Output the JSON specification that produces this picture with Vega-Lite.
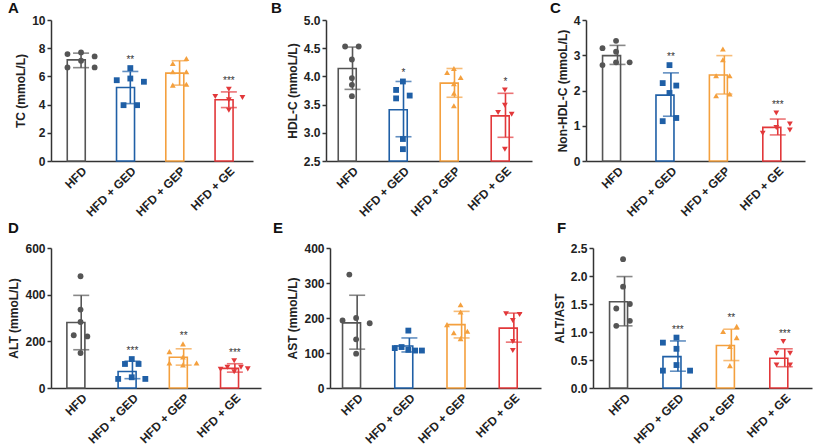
{
"$schema": "https://vega.github.io/schema/vega-lite/v6.json",
"background": "white",
"padding": {"left": 7, "top": 1, "right": 4, "bottom": 2},
"datasets": {
"sA": [
{"group":"HFD","mean":7.17,"lo":6.62,"hi":7.65,"star":""},
{"group":"HFD + GED","mean":5.21,"lo":4.07,"hi":6.35,"star":"**"},
{"group":"HFD + GEP","mean":6.23,"lo":5.38,"hi":7.11,"star":""},
{"group":"HFD + GE","mean":4.34,"lo":3.79,"hi":4.90,"star":"***"}],
"sB": [
{"group":"HFD","mean":4.14,"lo":3.77,"hi":4.52,"star":""},
{"group":"HFD + GED","mean":3.41,"lo":2.93,"hi":3.91,"star":"*"},
{"group":"HFD + GEP","mean":3.88,"lo":3.63,"hi":4.14,"star":""},
{"group":"HFD + GE","mean":3.30,"lo":2.92,"hi":3.70,"star":"*"}],
"sC": [
{"group":"HFD","mean":2.99,"lo":2.74,"hi":3.28,"star":""},
{"group":"HFD + GED","mean":1.87,"lo":1.27,"hi":2.50,"star":"**"},
{"group":"HFD + GEP","mean":2.44,"lo":1.90,"hi":2.99,"star":""},
{"group":"HFD + GE","mean":0.955,"lo":0.74,"hi":1.19,"star":"***"}],
"sD": [
{"group":"HFD","mean":281,"lo":164,"hi":397,"star":""},
{"group":"HFD + GED","mean":71,"lo":40,"hi":115,"star":"***"},
{"group":"HFD + GEP","mean":132,"lo":98,"hi":168,"star":"**"},
{"group":"HFD + GE","mean":84,"lo":68,"hi":104,"star":"***"}],
"sE": [
{"group":"HFD","mean":186,"lo":111,"hi":265,"star":""},
{"group":"HFD + GED","mean":120,"lo":103,"hi":143,"star":""},
{"group":"HFD + GEP","mean":181,"lo":143,"hi":219,"star":""},
{"group":"HFD + GE","mean":171,"lo":131,"hi":214,"star":""}],
"sF": [
{"group":"HFD","mean":1.54,"lo":1.11,"hi":1.99,"star":""},
{"group":"HFD + GED","mean":0.56,"lo":0.30,"hi":0.84,"star":"***"},
{"group":"HFD + GEP","mean":0.76,"lo":0.49,"hi":1.05,"star":"**"},
{"group":"HFD + GE","mean":0.53,"lo":0.38,"hi":0.70,"star":"***"}],
"pts": [
{"panel":"A","group":"HFD","lane":-2,"v":7.58},{"panel":"A","group":"HFD","lane":0,"v":7.70},{"panel":"A","group":"HFD","lane":2,"v":7.42},{"panel":"A","group":"HFD","lane":0,"v":7.11},{"panel":"A","group":"HFD","lane":-2,"v":6.64},{"panel":"A","group":"HFD","lane":2,"v":6.64},
{"panel":"A","group":"HFD + GED","lane":0,"v":6.59},{"panel":"A","group":"HFD + GED","lane":-2,"v":5.73},{"panel":"A","group":"HFD + GED","lane":2,"v":5.62},{"panel":"A","group":"HFD + GED","lane":0,"v":5.85},{"panel":"A","group":"HFD + GED","lane":-1,"v":3.96},{"panel":"A","group":"HFD + GED","lane":1,"v":3.96},
{"panel":"A","group":"HFD + GEP","lane":1,"v":7.27},{"panel":"A","group":"HFD + GEP","lane":-1,"v":6.92},{"panel":"A","group":"HFD + GEP","lane":1,"v":6.33},{"panel":"A","group":"HFD + GEP","lane":-1,"v":6.33},{"panel":"A","group":"HFD + GEP","lane":-1,"v":5.38},{"panel":"A","group":"HFD + GEP","lane":1,"v":5.45},
{"panel":"A","group":"HFD + GE","lane":0,"v":5.09},{"panel":"A","group":"HFD + GE","lane":-2,"v":4.57},{"panel":"A","group":"HFD + GE","lane":2,"v":4.50},{"panel":"A","group":"HFD + GE","lane":0,"v":4.34},{"panel":"A","group":"HFD + GE","lane":0,"v":3.60},
{"panel":"B","group":"HFD","lane":-1,"v":4.53},{"panel":"B","group":"HFD","lane":1,"v":4.53},{"panel":"B","group":"HFD","lane":0,"v":4.30},{"panel":"B","group":"HFD","lane":0,"v":3.97},{"panel":"B","group":"HFD","lane":0,"v":3.85},{"panel":"B","group":"HFD","lane":0,"v":3.65},
{"panel":"B","group":"HFD + GED","lane":0,"v":3.91},{"panel":"B","group":"HFD + GED","lane":-1,"v":3.76},{"panel":"B","group":"HFD + GED","lane":-1,"v":3.61},{"panel":"B","group":"HFD + GED","lane":1,"v":3.66},{"panel":"B","group":"HFD + GED","lane":0,"v":2.89},{"panel":"B","group":"HFD + GED","lane":0,"v":2.71},
{"panel":"B","group":"HFD + GEP","lane":-1,"v":4.07},{"panel":"B","group":"HFD + GEP","lane":1,"v":3.98},{"panel":"B","group":"HFD + GEP","lane":0,"v":4.14},{"panel":"B","group":"HFD + GEP","lane":0,"v":3.87},{"panel":"B","group":"HFD + GEP","lane":0,"v":3.70},{"panel":"B","group":"HFD + GEP","lane":0,"v":3.48},
{"panel":"B","group":"HFD + GE","lane":0,"v":3.76},{"panel":"B","group":"HFD + GE","lane":0,"v":3.49},{"panel":"B","group":"HFD + GE","lane":-1,"v":3.36},{"panel":"B","group":"HFD + GE","lane":1,"v":3.33},{"panel":"B","group":"HFD + GE","lane":0,"v":2.71},
{"panel":"C","group":"HFD","lane":0,"v":3.41},{"panel":"C","group":"HFD","lane":-2,"v":3.20},{"panel":"C","group":"HFD","lane":0,"v":3.10},{"panel":"C","group":"HFD","lane":-2,"v":2.72},{"panel":"C","group":"HFD","lane":0,"v":2.80},{"panel":"C","group":"HFD","lane":2,"v":2.80},
{"panel":"C","group":"HFD + GED","lane":0,"v":2.72},{"panel":"C","group":"HFD + GED","lane":-1,"v":2.21},{"panel":"C","group":"HFD + GED","lane":1,"v":2.14},{"panel":"C","group":"HFD + GED","lane":0,"v":1.93},{"panel":"C","group":"HFD + GED","lane":-1,"v":1.13},{"panel":"C","group":"HFD + GED","lane":1,"v":1.22},
{"panel":"C","group":"HFD + GEP","lane":0,"v":3.18},{"panel":"C","group":"HFD + GEP","lane":0,"v":2.87},{"panel":"C","group":"HFD + GEP","lane":-1,"v":2.42},{"panel":"C","group":"HFD + GEP","lane":1,"v":2.42},{"panel":"C","group":"HFD + GEP","lane":-1,"v":1.85},{"panel":"C","group":"HFD + GEP","lane":1,"v":1.90},
{"panel":"C","group":"HFD + GE","lane":0,"v":1.36},{"panel":"C","group":"HFD + GE","lane":-2,"v":0.79},{"panel":"C","group":"HFD + GE","lane":2,"v":1.05},{"panel":"C","group":"HFD + GE","lane":2,"v":0.88},{"panel":"C","group":"HFD + GE","lane":0,"v":0.95},
{"panel":"D","group":"HFD","lane":0,"v":479},{"panel":"D","group":"HFD","lane":0,"v":336},{"panel":"D","group":"HFD","lane":0,"v":283},{"panel":"D","group":"HFD","lane":-1,"v":226},{"panel":"D","group":"HFD","lane":1,"v":221},{"panel":"D","group":"HFD","lane":0,"v":150},
{"panel":"D","group":"HFD + GED","lane":0,"v":124},{"panel":"D","group":"HFD + GED","lane":-1,"v":103},{"panel":"D","group":"HFD + GED","lane":1,"v":103},{"panel":"D","group":"HFD + GED","lane":0,"v":46},{"panel":"D","group":"HFD + GED","lane":-2,"v":39},{"panel":"D","group":"HFD + GED","lane":2,"v":39},
{"panel":"D","group":"HFD + GEP","lane":0,"v":189},{"panel":"D","group":"HFD + GEP","lane":-2,"v":156},{"panel":"D","group":"HFD + GEP","lane":0,"v":133},{"panel":"D","group":"HFD + GEP","lane":-2,"v":107},{"panel":"D","group":"HFD + GEP","lane":0,"v":99},{"panel":"D","group":"HFD + GEP","lane":2,"v":107},
{"panel":"D","group":"HFD + GE","lane":0,"v":117},{"panel":"D","group":"HFD + GE","lane":-1,"v":89},{"panel":"D","group":"HFD + GE","lane":1,"v":89},{"panel":"D","group":"HFD + GE","lane":-2,"v":80},{"panel":"D","group":"HFD + GE","lane":2,"v":82},{"panel":"D","group":"HFD + GE","lane":0,"v":70},
{"panel":"E","group":"HFD","lane":-1,"v":324},{"panel":"E","group":"HFD","lane":0,"v":200},{"panel":"E","group":"HFD","lane":-2,"v":193},{"panel":"E","group":"HFD","lane":2,"v":185},{"panel":"E","group":"HFD","lane":0,"v":139},{"panel":"E","group":"HFD","lane":0,"v":98},
{"panel":"E","group":"HFD + GED","lane":0,"v":164},{"panel":"E","group":"HFD + GED","lane":-2,"v":114},{"panel":"E","group":"HFD + GED","lane":-1,"v":117},{"panel":"E","group":"HFD + GED","lane":1,"v":107},{"panel":"E","group":"HFD + GED","lane":2,"v":107},{"panel":"E","group":"HFD + GED","lane":0,"v":109},
{"panel":"E","group":"HFD + GEP","lane":0,"v":238},{"panel":"E","group":"HFD + GEP","lane":0,"v":217},{"panel":"E","group":"HFD + GEP","lane":-2,"v":181},{"panel":"E","group":"HFD + GEP","lane":1,"v":162},{"panel":"E","group":"HFD + GEP","lane":-1,"v":158},{"panel":"E","group":"HFD + GEP","lane":0,"v":141},
{"panel":"E","group":"HFD + GE","lane":-1,"v":212},{"panel":"E","group":"HFD + GE","lane":1,"v":210},{"panel":"E","group":"HFD + GE","lane":0,"v":193},{"panel":"E","group":"HFD + GE","lane":0,"v":133},{"panel":"E","group":"HFD + GE","lane":0,"v":107},
{"panel":"F","group":"HFD","lane":0,"v":2.30},{"panel":"F","group":"HFD","lane":0,"v":1.81},{"panel":"F","group":"HFD","lane":1,"v":1.50},{"panel":"F","group":"HFD","lane":-1,"v":1.42},{"panel":"F","group":"HFD","lane":1,"v":1.20},{"panel":"F","group":"HFD","lane":-1,"v":1.11},
{"panel":"F","group":"HFD + GED","lane":0,"v":0.90},{"panel":"F","group":"HFD + GED","lane":-2,"v":0.81},{"panel":"F","group":"HFD + GED","lane":0,"v":0.70},{"panel":"F","group":"HFD + GED","lane":0,"v":0.41},{"panel":"F","group":"HFD + GED","lane":-2,"v":0.31},{"panel":"F","group":"HFD + GED","lane":2,"v":0.31},
{"panel":"F","group":"HFD + GEP","lane":1,"v":1.10},{"panel":"F","group":"HFD + GEP","lane":-1,"v":1.01},{"panel":"F","group":"HFD + GEP","lane":1,"v":0.90},{"panel":"F","group":"HFD + GEP","lane":0,"v":0.74},{"panel":"F","group":"HFD + GEP","lane":0,"v":0.40},
{"panel":"F","group":"HFD + GE","lane":0,"v":0.83},{"panel":"F","group":"HFD + GE","lane":-1,"v":0.62},{"panel":"F","group":"HFD + GE","lane":1,"v":0.62},{"panel":"F","group":"HFD + GE","lane":-1,"v":0.41},{"panel":"F","group":"HFD + GE","lane":1,"v":0.41}
]
},
"config": {
"font": "Liberation Sans",
"view": {"stroke": null},
"axis": {"labelFont": "Liberation Sans", "labelFontSize": 12, "labelFontWeight": "bold", "labelColor": "#222", "labelOverlap": false, "titleFont": "Liberation Sans", "titleFontSize": 12, "titleFontWeight": "bold", "titleColor": "#222", "domainColor": "#333", "domainWidth": 1.5, "tickColor": "#333", "tickWidth": 1.5, "tickSize": 4, "grid": false, "titlePadding": 4, "labelPadding": 2},
"axisX": {"labelAngle": -45, "ticks": false, "labelPadding": 4},
"title": {"fontSize": 15, "fontWeight": "bold", "anchor": "start", "frame": "group", "color": "#111", "offset": -2, "font": "Liberation Sans"},
"tick": {"thickness": 1.6}
},
"spacing": 2,
"vconcat": [
{"spacing": 18, "hconcat": [
{"title": {"text": "A", "dx": -43}, "width": 202, "height": 141,
 "encoding": {"x": {"field": "group", "type": "nominal", "sort": ["HFD","HFD + GED","HFD + GEP","HFD + GE"], "scale": {"paddingInner": 0.3, "paddingOuter": 0.2, "align": 0.65}, "axis": {"title": null}}},
 "layer": [
  {"data": {"name": "sA"}, "mark": {"type": "bar", "fill": "white", "strokeWidth": 1.6, "width": {"band": 0.8}},
   "encoding": {"y": {"field": "mean", "type": "quantitative", "title": "TC (mmoL/L)", "scale": {"domain": [0, 10], "nice": false}, "axis": {"values": [0,2,4,6,8,10], "labelOverlap": false}},
    "stroke": {"field": "group", "type": "nominal", "scale": {"domain": ["HFD","HFD + GED","HFD + GEP","HFD + GE"], "range": ["#555555","#1f5fa6","#f4a03e","#e2383a"]}, "legend": null}}},
  {"data": {"name": "sA"}, "mark": {"type": "rule", "strokeWidth": 1.6},
   "encoding": {"y": {"field": "lo", "type": "quantitative", "title": "TC (mmoL/L)", "axis": {"values": [0,2,4,6,8,10], "labelOverlap": false}}, "y2": {"field": "hi"}, "color": {"field": "group", "type": "nominal", "scale": {"domain": ["HFD","HFD + GED","HFD + GEP","HFD + GE"], "range": ["#555555","#1f5fa6","#f4a03e","#e2383a"]}, "legend": null}}},
  {"data": {"name": "sA"}, "mark": {"type": "tick", "size": 16},
   "encoding": {"y": {"field": "lo", "type": "quantitative", "title": "TC (mmoL/L)", "axis": {"values": [0,2,4,6,8,10], "labelOverlap": false}}, "color": {"field": "group", "type": "nominal", "legend": null}}},
  {"data": {"name": "sA"}, "mark": {"type": "tick", "size": 16},
   "encoding": {"y": {"field": "hi", "type": "quantitative", "title": "TC (mmoL/L)", "axis": {"values": [0,2,4,6,8,10], "labelOverlap": false}}, "color": {"field": "group", "type": "nominal", "legend": null}}},
  {"data": {"name": "pts"}, "transform": [{"filter": "datum.panel=='A'"}], "mark": {"type": "point", "filled": true, "size": 34, "opacity": 1},
   "encoding": {"xOffset": {"field": "lane", "type": "ordinal", "scale": {"domain": [-2,-1,0,1,2], "paddingInner": 0, "paddingOuter": 0.54}}, "y": {"field": "v", "type": "quantitative", "title": "TC (mmoL/L)", "axis": {"values": [0,2,4,6,8,10], "labelOverlap": false}}, "color": {"field": "group", "type": "nominal", "legend": null}, "shape": {"field": "group", "type": "nominal", "scale": {"domain": ["HFD","HFD + GED","HFD + GEP","HFD + GE"], "range": ["circle","square","triangle-up","triangle-down"]}, "legend": null}}},
  {"data": {"name": "pts"}, "transform": [{"filter": "datum.panel=='A'"}, {"aggregate": [{"op": "max", "field": "v", "as": "top"}], "groupby": ["group"]}, {"lookup": "group", "from": {"data": {"name": "sA"}, "key": "group", "fields": ["star"]}}, {"filter": "datum.star != ''"}],
   "mark": {"type": "text", "dy": -8, "fontSize": 10, "color": "#333", "baseline": "middle"},
   "encoding": {"y": {"field": "top", "type": "quantitative", "title": "TC (mmoL/L)", "axis": {"values": [0,2,4,6,8,10], "labelOverlap": false}}, "text": {"field": "star"}}}
 ]},
{"title": {"text": "B", "dx": -55}, "width": 206, "height": 141,
 "encoding": {"x": {"field": "group", "type": "nominal", "sort": ["HFD","HFD + GED","HFD + GEP","HFD + GE"], "scale": {"paddingInner": 0.3, "paddingOuter": 0.17}, "axis": {"title": null}}},
 "layer": [
  {"data": {"name": "sB"}, "mark": {"type": "bar", "fill": "white", "strokeWidth": 1.6, "width": {"band": 0.8}},
   "encoding": {"y": {"field": "mean", "type": "quantitative", "title": "HDL-C (mmoL/L)", "scale": {"domain": [2.5, 5], "nice": false, "zero": false}, "axis": {"values": [2.5,3,3.5,4,4.5,5], "format": ".1f", "labelOverlap": false}}, "y2": {"datum": 2.5},
    "stroke": {"field": "group", "type": "nominal", "scale": {"domain": ["HFD","HFD + GED","HFD + GEP","HFD + GE"], "range": ["#555555","#1f5fa6","#f4a03e","#e2383a"]}, "legend": null}}},
  {"data": {"name": "sB"}, "mark": {"type": "rule", "strokeWidth": 1.6},
   "encoding": {"y": {"field": "lo", "type": "quantitative", "title": "HDL-C (mmoL/L)", "axis": {"values": [2.5,3,3.5,4,4.5,5], "format": ".1f", "labelOverlap": false}}, "y2": {"field": "hi"}, "color": {"field": "group", "type": "nominal", "scale": {"domain": ["HFD","HFD + GED","HFD + GEP","HFD + GE"], "range": ["#555555","#1f5fa6","#f4a03e","#e2383a"]}, "legend": null}}},
  {"data": {"name": "sB"}, "mark": {"type": "tick", "size": 16},
   "encoding": {"y": {"field": "lo", "type": "quantitative", "title": "HDL-C (mmoL/L)", "axis": {"values": [2.5,3,3.5,4,4.5,5], "format": ".1f", "labelOverlap": false}}, "color": {"field": "group", "type": "nominal", "legend": null}}},
  {"data": {"name": "sB"}, "mark": {"type": "tick", "size": 16},
   "encoding": {"y": {"field": "hi", "type": "quantitative", "title": "HDL-C (mmoL/L)", "axis": {"values": [2.5,3,3.5,4,4.5,5], "format": ".1f", "labelOverlap": false}}, "color": {"field": "group", "type": "nominal", "legend": null}}},
  {"data": {"name": "pts"}, "transform": [{"filter": "datum.panel=='B'"}], "mark": {"type": "point", "filled": true, "size": 34, "opacity": 1},
   "encoding": {"xOffset": {"field": "lane", "type": "ordinal", "scale": {"domain": [-2,-1,0,1,2], "paddingInner": 0, "paddingOuter": 0.54}}, "y": {"field": "v", "type": "quantitative", "title": "HDL-C (mmoL/L)", "axis": {"values": [2.5,3,3.5,4,4.5,5], "format": ".1f", "labelOverlap": false}}, "color": {"field": "group", "type": "nominal", "legend": null}, "shape": {"field": "group", "type": "nominal", "scale": {"domain": ["HFD","HFD + GED","HFD + GEP","HFD + GE"], "range": ["circle","square","triangle-up","triangle-down"]}, "legend": null}}},
  {"data": {"name": "pts"}, "transform": [{"filter": "datum.panel=='B'"}, {"aggregate": [{"op": "max", "field": "v", "as": "top"}], "groupby": ["group"]}, {"lookup": "group", "from": {"data": {"name": "sB"}, "key": "group", "fields": ["star"]}}, {"filter": "datum.star != ''"}],
   "mark": {"type": "text", "dy": -8, "fontSize": 10, "color": "#333", "baseline": "middle"},
   "encoding": {"y": {"field": "top", "type": "quantitative", "title": "HDL-C (mmoL/L)", "axis": {"values": [2.5,3,3.5,4,4.5,5], "format": ".1f", "labelOverlap": false}}, "text": {"field": "star"}}}
 ]},
{"title": {"text": "C", "dx": -36}, "width": 219, "height": 141,
 "encoding": {"x": {"field": "group", "type": "nominal", "sort": ["HFD","HFD + GED","HFD + GEP","HFD + GE"], "scale": {"paddingInner": 0.3, "paddingOuter": 0.2, "align": 0.6}, "axis": {"title": null}}},
 "layer": [
  {"data": {"name": "sC"}, "mark": {"type": "bar", "fill": "white", "strokeWidth": 1.6, "width": {"band": 0.8}},
   "encoding": {"y": {"field": "mean", "type": "quantitative", "title": "Non-HDL-C (mmoL/L)", "scale": {"domain": [0, 4], "nice": false}, "axis": {"values": [0,1,2,3,4], "labelOverlap": false}},
    "stroke": {"field": "group", "type": "nominal", "scale": {"domain": ["HFD","HFD + GED","HFD + GEP","HFD + GE"], "range": ["#555555","#1f5fa6","#f4a03e","#e2383a"]}, "legend": null}}},
  {"data": {"name": "sC"}, "mark": {"type": "rule", "strokeWidth": 1.6},
   "encoding": {"y": {"field": "lo", "type": "quantitative", "title": "Non-HDL-C (mmoL/L)", "axis": {"values": [0,1,2,3,4], "labelOverlap": false}}, "y2": {"field": "hi"}, "color": {"field": "group", "type": "nominal", "scale": {"domain": ["HFD","HFD + GED","HFD + GEP","HFD + GE"], "range": ["#555555","#1f5fa6","#f4a03e","#e2383a"]}, "legend": null}}},
  {"data": {"name": "sC"}, "mark": {"type": "tick", "size": 16},
   "encoding": {"y": {"field": "lo", "type": "quantitative", "title": "Non-HDL-C (mmoL/L)", "axis": {"values": [0,1,2,3,4], "labelOverlap": false}}, "color": {"field": "group", "type": "nominal", "legend": null}}},
  {"data": {"name": "sC"}, "mark": {"type": "tick", "size": 16},
   "encoding": {"y": {"field": "hi", "type": "quantitative", "title": "Non-HDL-C (mmoL/L)", "axis": {"values": [0,1,2,3,4], "labelOverlap": false}}, "color": {"field": "group", "type": "nominal", "legend": null}}},
  {"data": {"name": "pts"}, "transform": [{"filter": "datum.panel=='C'"}], "mark": {"type": "point", "filled": true, "size": 34, "opacity": 1},
   "encoding": {"xOffset": {"field": "lane", "type": "ordinal", "scale": {"domain": [-2,-1,0,1,2], "paddingInner": 0, "paddingOuter": 0.54}}, "y": {"field": "v", "type": "quantitative", "title": "Non-HDL-C (mmoL/L)", "axis": {"values": [0,1,2,3,4], "labelOverlap": false}}, "color": {"field": "group", "type": "nominal", "legend": null}, "shape": {"field": "group", "type": "nominal", "scale": {"domain": ["HFD","HFD + GED","HFD + GEP","HFD + GE"], "range": ["circle","square","triangle-up","triangle-down"]}, "legend": null}}},
  {"data": {"name": "pts"}, "transform": [{"filter": "datum.panel=='C'"}, {"aggregate": [{"op": "max", "field": "v", "as": "top"}], "groupby": ["group"]}, {"lookup": "group", "from": {"data": {"name": "sC"}, "key": "group", "fields": ["star"]}}, {"filter": "datum.star != ''"}],
   "mark": {"type": "text", "dy": -8, "fontSize": 10, "color": "#333", "baseline": "middle"},
   "encoding": {"y": {"field": "top", "type": "quantitative", "title": "Non-HDL-C (mmoL/L)", "axis": {"values": [0,1,2,3,4], "labelOverlap": false}}, "text": {"field": "star"}}}
 ]}
]},
{"spacing": 12, "hconcat": [
{"title": {"text": "D", "dx": -43, "offset": 6}, "width": 210, "height": 140,
 "encoding": {"x": {"field": "group", "type": "nominal", "sort": ["HFD","HFD + GED","HFD + GEP","HFD + GE"], "scale": {"paddingInner": 0.3, "paddingOuter": 0.2, "align": 0.6}, "axis": {"title": null}}},
 "layer": [
  {"data": {"name": "sD"}, "mark": {"type": "bar", "fill": "white", "strokeWidth": 1.6, "width": {"band": 0.8}},
   "encoding": {"y": {"field": "mean", "type": "quantitative", "title": "ALT (mmoL/L)", "scale": {"domain": [0, 600], "nice": false}, "axis": {"values": [0,200,400,600], "labelOverlap": false}},
    "stroke": {"field": "group", "type": "nominal", "scale": {"domain": ["HFD","HFD + GED","HFD + GEP","HFD + GE"], "range": ["#555555","#1f5fa6","#f4a03e","#e2383a"]}, "legend": null}}},
  {"data": {"name": "sD"}, "mark": {"type": "rule", "strokeWidth": 1.6},
   "encoding": {"y": {"field": "lo", "type": "quantitative", "title": "ALT (mmoL/L)", "axis": {"values": [0,200,400,600], "labelOverlap": false}}, "y2": {"field": "hi"}, "color": {"field": "group", "type": "nominal", "scale": {"domain": ["HFD","HFD + GED","HFD + GEP","HFD + GE"], "range": ["#555555","#1f5fa6","#f4a03e","#e2383a"]}, "legend": null}}},
  {"data": {"name": "sD"}, "mark": {"type": "tick", "size": 16},
   "encoding": {"y": {"field": "lo", "type": "quantitative", "title": "ALT (mmoL/L)", "axis": {"values": [0,200,400,600], "labelOverlap": false}}, "color": {"field": "group", "type": "nominal", "legend": null}}},
  {"data": {"name": "sD"}, "mark": {"type": "tick", "size": 16},
   "encoding": {"y": {"field": "hi", "type": "quantitative", "title": "ALT (mmoL/L)", "axis": {"values": [0,200,400,600], "labelOverlap": false}}, "color": {"field": "group", "type": "nominal", "legend": null}}},
  {"data": {"name": "pts"}, "transform": [{"filter": "datum.panel=='D'"}], "mark": {"type": "point", "filled": true, "size": 34, "opacity": 1},
   "encoding": {"xOffset": {"field": "lane", "type": "ordinal", "scale": {"domain": [-2,-1,0,1,2], "paddingInner": 0, "paddingOuter": 0.54}}, "y": {"field": "v", "type": "quantitative", "title": "ALT (mmoL/L)", "axis": {"values": [0,200,400,600], "labelOverlap": false}}, "color": {"field": "group", "type": "nominal", "legend": null}, "shape": {"field": "group", "type": "nominal", "scale": {"domain": ["HFD","HFD + GED","HFD + GEP","HFD + GE"], "range": ["circle","square","triangle-up","triangle-down"]}, "legend": null}}},
  {"data": {"name": "pts"}, "transform": [{"filter": "datum.panel=='D'"}, {"aggregate": [{"op": "max", "field": "v", "as": "top"}], "groupby": ["group"]}, {"lookup": "group", "from": {"data": {"name": "sD"}, "key": "group", "fields": ["star"]}}, {"filter": "datum.star != ''"}],
   "mark": {"type": "text", "dy": -8, "fontSize": 10, "color": "#333", "baseline": "middle"},
   "encoding": {"y": {"field": "top", "type": "quantitative", "title": "ALT (mmoL/L)", "axis": {"values": [0,200,400,600], "labelOverlap": false}}, "text": {"field": "star"}}}
 ]},
{"title": {"text": "E", "dx": -57, "offset": 6}, "width": 211, "height": 140,
 "encoding": {"x": {"field": "group", "type": "nominal", "sort": ["HFD","HFD + GED","HFD + GEP","HFD + GE"], "scale": {"paddingInner": 0.3, "paddingOuter": 0.17}, "axis": {"title": null}}},
 "layer": [
  {"data": {"name": "sE"}, "mark": {"type": "bar", "fill": "white", "strokeWidth": 1.6, "width": {"band": 0.8}},
   "encoding": {"y": {"field": "mean", "type": "quantitative", "title": "AST (mmoL/L)", "scale": {"domain": [0, 400], "nice": false}, "axis": {"values": [0,100,200,300,400], "labelOverlap": false}},
    "stroke": {"field": "group", "type": "nominal", "scale": {"domain": ["HFD","HFD + GED","HFD + GEP","HFD + GE"], "range": ["#555555","#1f5fa6","#f4a03e","#e2383a"]}, "legend": null}}},
  {"data": {"name": "sE"}, "mark": {"type": "rule", "strokeWidth": 1.6},
   "encoding": {"y": {"field": "lo", "type": "quantitative", "title": "AST (mmoL/L)", "axis": {"values": [0,100,200,300,400], "labelOverlap": false}}, "y2": {"field": "hi"}, "color": {"field": "group", "type": "nominal", "scale": {"domain": ["HFD","HFD + GED","HFD + GEP","HFD + GE"], "range": ["#555555","#1f5fa6","#f4a03e","#e2383a"]}, "legend": null}}},
  {"data": {"name": "sE"}, "mark": {"type": "tick", "size": 16},
   "encoding": {"y": {"field": "lo", "type": "quantitative", "title": "AST (mmoL/L)", "axis": {"values": [0,100,200,300,400], "labelOverlap": false}}, "color": {"field": "group", "type": "nominal", "legend": null}}},
  {"data": {"name": "sE"}, "mark": {"type": "tick", "size": 16},
   "encoding": {"y": {"field": "hi", "type": "quantitative", "title": "AST (mmoL/L)", "axis": {"values": [0,100,200,300,400], "labelOverlap": false}}, "color": {"field": "group", "type": "nominal", "legend": null}}},
  {"data": {"name": "pts"}, "transform": [{"filter": "datum.panel=='E'"}], "mark": {"type": "point", "filled": true, "size": 34, "opacity": 1},
   "encoding": {"xOffset": {"field": "lane", "type": "ordinal", "scale": {"domain": [-2,-1,0,1,2], "paddingInner": 0, "paddingOuter": 0.54}}, "y": {"field": "v", "type": "quantitative", "title": "AST (mmoL/L)", "axis": {"values": [0,100,200,300,400], "labelOverlap": false}}, "color": {"field": "group", "type": "nominal", "legend": null}, "shape": {"field": "group", "type": "nominal", "scale": {"domain": ["HFD","HFD + GED","HFD + GEP","HFD + GE"], "range": ["circle","square","triangle-up","triangle-down"]}, "legend": null}}}
 ]},
{"title": {"text": "F", "dx": -36, "offset": 6}, "width": 219, "height": 140,
 "encoding": {"x": {"field": "group", "type": "nominal", "sort": ["HFD","HFD + GED","HFD + GEP","HFD + GE"], "scale": {"paddingInner": 0.3, "paddingOuter": 0.2, "align": 0.6}, "axis": {"title": null}}},
 "layer": [
  {"data": {"name": "sF"}, "mark": {"type": "bar", "fill": "white", "strokeWidth": 1.6, "width": {"band": 0.8}},
   "encoding": {"y": {"field": "mean", "type": "quantitative", "title": "ALT/AST", "scale": {"domain": [0, 2.5], "nice": false}, "axis": {"values": [0,0.5,1,1.5,2,2.5], "format": ".1f", "labelOverlap": false}},
    "stroke": {"field": "group", "type": "nominal", "scale": {"domain": ["HFD","HFD + GED","HFD + GEP","HFD + GE"], "range": ["#555555","#1f5fa6","#f4a03e","#e2383a"]}, "legend": null}}},
  {"data": {"name": "sF"}, "mark": {"type": "rule", "strokeWidth": 1.6},
   "encoding": {"y": {"field": "lo", "type": "quantitative", "title": "ALT/AST", "axis": {"values": [0,0.5,1,1.5,2,2.5], "format": ".1f", "labelOverlap": false}}, "y2": {"field": "hi"}, "color": {"field": "group", "type": "nominal", "scale": {"domain": ["HFD","HFD + GED","HFD + GEP","HFD + GE"], "range": ["#555555","#1f5fa6","#f4a03e","#e2383a"]}, "legend": null}}},
  {"data": {"name": "sF"}, "mark": {"type": "tick", "size": 16},
   "encoding": {"y": {"field": "lo", "type": "quantitative", "title": "ALT/AST", "axis": {"values": [0,0.5,1,1.5,2,2.5], "format": ".1f", "labelOverlap": false}}, "color": {"field": "group", "type": "nominal", "legend": null}}},
  {"data": {"name": "sF"}, "mark": {"type": "tick", "size": 16},
   "encoding": {"y": {"field": "hi", "type": "quantitative", "title": "ALT/AST", "axis": {"values": [0,0.5,1,1.5,2,2.5], "format": ".1f", "labelOverlap": false}}, "color": {"field": "group", "type": "nominal", "legend": null}}},
  {"data": {"name": "pts"}, "transform": [{"filter": "datum.panel=='F'"}], "mark": {"type": "point", "filled": true, "size": 34, "opacity": 1},
   "encoding": {"xOffset": {"field": "lane", "type": "ordinal", "scale": {"domain": [-2,-1,0,1,2], "paddingInner": 0, "paddingOuter": 0.54}}, "y": {"field": "v", "type": "quantitative", "title": "ALT/AST", "axis": {"values": [0,0.5,1,1.5,2,2.5], "format": ".1f", "labelOverlap": false}}, "color": {"field": "group", "type": "nominal", "legend": null}, "shape": {"field": "group", "type": "nominal", "scale": {"domain": ["HFD","HFD + GED","HFD + GEP","HFD + GE"], "range": ["circle","square","triangle-up","triangle-down"]}, "legend": null}}},
  {"data": {"name": "pts"}, "transform": [{"filter": "datum.panel=='F'"}, {"aggregate": [{"op": "max", "field": "v", "as": "top"}], "groupby": ["group"]}, {"lookup": "group", "from": {"data": {"name": "sF"}, "key": "group", "fields": ["star"]}}, {"filter": "datum.star != ''"}],
   "mark": {"type": "text", "dy": -8, "fontSize": 10, "color": "#333", "baseline": "middle"},
   "encoding": {"y": {"field": "top", "type": "quantitative", "title": "ALT/AST", "axis": {"values": [0,0.5,1,1.5,2,2.5], "format": ".1f", "labelOverlap": false}}, "text": {"field": "star"}}}
 ]}
]}
]
}
